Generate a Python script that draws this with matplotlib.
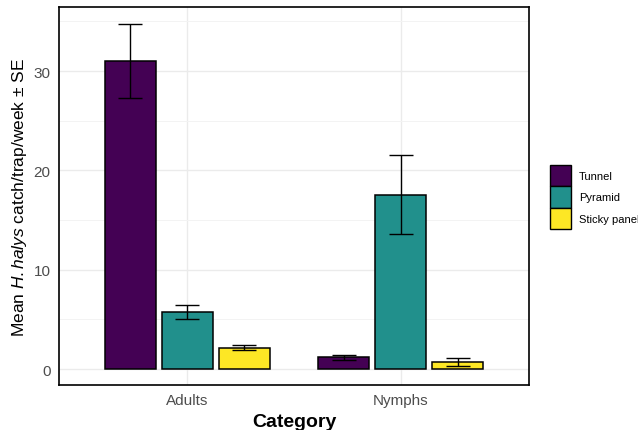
import matplotlib.pyplot as plt
import numpy as np
from matplotlib.patches import Patch
from matplotlib.ticker import MultipleLocator

plt.rcParams['font.family'] = ['Liberation Sans', 'DejaVu Sans']
plt.rcParams['mathtext.fontset'] = 'custom'
plt.rcParams['mathtext.it'] = 'Liberation Sans:italic'
plt.rcParams['mathtext.rm'] = 'Liberation Sans'

# data
categories = ['Adults', 'Nymphs']
traps = ['Tunnel', 'Pyramid', 'Sticky panel']
means = {
    'Tunnel': [31.0, 1.18],
    'Pyramid': [5.75, 17.56],
    'Sticky panel': [2.15, 0.7],
}
ses = {
    'Tunnel': [3.7, 0.27],
    'Pyramid': [0.75, 4.0],
    'Sticky panel': [0.25, 0.38],
}
colors = ['#440154', '#21908C', '#FDE725']

fig = plt.figure(figsize=(6.38, 4.31), dpi=100)
ax = fig.add_axes([59 / 638, 1 - 386 / 431, 470 / 638, 378 / 431])

x = np.arange(1, len(categories) + 1)
slot = 0.8 / len(traps)
for i, trap in enumerate(traps):
    pos = x + (i - 1) * slot
    ax.bar(pos, means[trap], width=slot * 0.9, color=colors[i],
           edgecolor='black', linewidth=1.1, zorder=3)
    ax.errorbar(pos, means[trap], yerr=ses[trap], fmt='none', ecolor='black',
                elinewidth=1.0, capsize=8.5, capthick=1.0, zorder=4)

ax.set_xlim(0.4, 2.6)
ax.set_ylim(-1.6, 36.45)
ax.set_xticks(x)
ax.set_xticklabels(categories)
ax.yaxis.set_major_locator(MultipleLocator(10))
ax.yaxis.set_minor_locator(MultipleLocator(5))
ax.grid(which='major', color='#EBEBEB', linewidth=1.0, zorder=0)
ax.grid(which='minor', axis='y', color='#F3F3F3', linewidth=0.7, zorder=0)
ax.set_axisbelow(True)
ax.tick_params(axis='both', which='both', length=0, labelsize=11,
               labelcolor='#4D4D4D', pad=6)
for s in ax.spines.values():
    s.set_color('black')
    s.set_linewidth(1.2)

ax.set_xlabel('Category', fontsize=14, fontweight='bold', labelpad=4)
ax.set_ylabel('Mean $\\mathit{H.halys}$ catch/trap/week ± SE', fontsize=12.5, labelpad=3)

handles = [Patch(facecolor=c, edgecolor='black', linewidth=1.0) for c in colors]
fig.legend(handles, traps, loc='center left', bbox_to_anchor=(550 / 638, 1 - 198 / 431),
           frameon=False, fontsize=8, handlelength=1.9, handleheight=2.6,
           handletextpad=0.7, labelspacing=0.0, borderaxespad=0, borderpad=0)

fig.savefig('out.png', dpi=100)
